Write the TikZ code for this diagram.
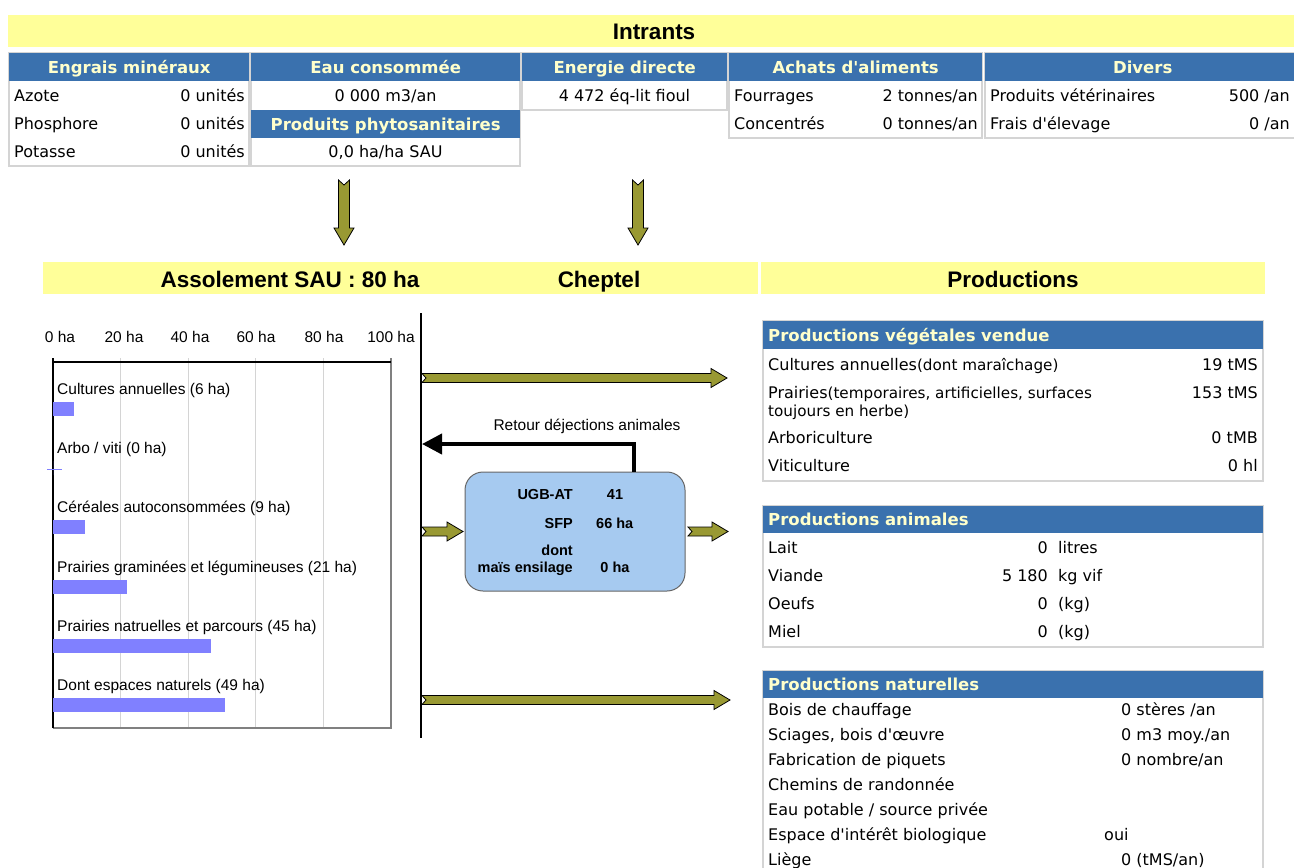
\documentclass[tikz,border=0pt]{standalone}
\usepackage{fontspec}
\setmainfont{DejaVu Sans}
\newfontfamily\verdf{DejaVu Sans}
\newfontfamily\arialf{Liberation Sans}
\usepackage{tikz}
\usetikzlibrary{arrows.meta, positioning, calc}
\definecolor{SAUyellow}{HTML}{FFFF99}
\definecolor{SAUblue}{HTML}{3A71AE}
\definecolor{SAUcream}{HTML}{FFFFCC}
\definecolor{SAUgrid}{HTML}{D4D4D4}
\definecolor{SAUolive}{HTML}{999933}
\definecolor{SAUbar}{HTML}{8080FF}
\definecolor{SAUbox}{HTML}{A6CAF0}
\newcommand{\fsz}[1]{\fontsize{#1}{#1}\selectfont}
% fat olive arrows, horizontal and downwards
\newcommand{\oliveH}[2]{\filldraw[oliveArrow] ($(#1)+(0,-4.5)$) -- ($(#2)+(-16,-4.5)$) -- ($(#2)+(-16,-9.5)$) -- (#2)
  -- ($(#2)+(-16,9.5)$) -- ($(#2)+(-16,4.5)$) -- ($(#1)+(0,4.5)$) -- ($(#1)+(4,0)$) -- cycle;}
\newcommand{\oliveV}[2]{\filldraw[oliveArrow] ($(#1)+(-5.5,0)$) -- ($(#2)+(-5.5,-17)$) -- ($(#2)+(-10,-17)$) -- (#2)
  -- ($(#2)+(10,-17)$) -- ($(#2)+(5.5,-17)$) -- ($(#1)+(5.5,0)$) -- ($(#1)+(0,5)$) -- cycle;}

\begin{document}
\begin{tikzpicture}[x=1pt, y=-1pt,
    band/.style={fill=SAUyellow},
    bandTitle/.style={font=\arialf\bfseries\fsz{22.5}, inner sep=0, text height=16, text depth=0},
    head/.style={fill=SAUblue, text=SAUcream, font=\verdf\bfseries\fsz{16.5}, inner sep=0, text height=12, text depth=0, anchor=north west},
    cellFrame/.style={draw=SAUgrid, line width=1.2},
    txt/.style={font=\verdf\fsz{16}, inner sep=0, text height=11.5, text depth=0},
    atxt/.style={font=\arialf\fsz{15.5}, inner sep=0, text height=11, text depth=0},
    btxt/.style={font=\arialf\bfseries\fsz{14.5}, inner sep=0, text height=11, text depth=0},
    oliveArrow/.style={fill=SAUolive, draw=black, line width=0.8, line join=miter},
  ]
  \useasboundingbox (0,0) rectangle (1294,868);
  \clip (0,0) rectangle (1294,868);

  % Intrants
  \fill[band] (8,15) rectangle (1294,47);
  \node[bandTitle] (intrants) at (654,31) {Intrants};

  \draw[cellFrame] (9,53) rectangle (249,166);
  \node[head, minimum width=240, minimum height=28] (hEngrais) at (9,53) {Engrais minéraux};
  \foreach \y/\a in {96/Azote, 124/Phosphore, 152/Potasse}{
    \node[txt, anchor=west] (n\a) at (14,\y) {\a};
    \node[txt, anchor=east] (v\a) at (245,\y) {0 unités};
  }

  \draw[cellFrame] (251,53) rectangle (520,166);
  \node[head, minimum width=269, minimum height=28] (hEau) at (251,53) {Eau consommée};
  \node[txt] (vEau) at (385.5,96) {0 000 m3/an};
  \node[head, minimum width=269, minimum height=28] (hPhyto) at (251,110) {Produits phytosanitaires};
  \node[txt] (vPhyto) at (385.5,152) {0,0 ha/ha SAU};

  \draw[cellFrame] (522,53) rectangle (727,110);
  \node[head, minimum width=205, minimum height=28] (hEnergie) at (522,53) {Energie directe};
  \node[txt] (vEnergie) at (624.5,96) {4 472 éq-lit fioul};

  \draw[cellFrame] (729,53) rectangle (982,138);
  \node[head, minimum width=253, minimum height=28] (hAchats) at (729,53) {Achats d'aliments};
  \foreach \y/\a/\v [count=\i] in {96/Fourrages/2, 124/Concentrés/0}{
    \node[txt, anchor=west] (nAch\i) at (734,\y) {\a};
    \node[txt, anchor=east] (vAch\i) at (978,\y) {\v{} tonnes/an};
  }

  \draw[cellFrame] (985,53) rectangle (1300,138);
  \node[head, minimum width=315, minimum height=28] (hDivers) at (985,53) {Divers};
  \foreach \y/\a/\v [count=\i] in {96/Produits vétérinaires/500, 124/Frais d'élevage/0}{
    \node[txt, anchor=west] (nDiv\i) at (990,\y) {\a};
    \node[txt, anchor=east] (vDiv\i) at (1290,\y) {\v{} /an};
  }

  \coordinate (engOut) at (344,180);
  \coordinate (assolIn) at (344,245);
  \coordinate (achOut) at (638,180);
  \coordinate (cheptIn) at (638,245);
  \oliveV{engOut}{assolIn}
  \oliveV{achOut}{cheptIn}

  % second band
  \fill[band] (43,262) rectangle (758,294);
  \fill[band] (761,262) rectangle (1265,294);
  \node[bandTitle] (assol) at (290,279) {Assolement SAU : 80 ha};
  \node[bandTitle] (cheptTitle) at (599,279) {Cheptel};
  \node[bandTitle] (prodTitle) at (1013,279) {Productions};

  % assolement chart
  \foreach \k in {1,...,4}
    \draw[SAUgrid, line width=1.2] ({53+67.6*\k},358) -- ({53+67.6*\k},728);
  \draw[gray, line width=1.2] (391,358) -- (391,728) -- (53,728);
  \draw[black, line width=1.2] (53,728) -- (53,358) (53,362) -- (391,362);
  \foreach \k/\x/\t in {0/60/0 ha, 1/124/20 ha, 2/190/40 ha, 3/256/60 ha, 4/324/80 ha, 5/391/100 ha}
    \node[atxt] (ax\k) at (\x,337) {\t};
  \foreach \v/\lab [count=\i from 0] in {6/{Cultures annuelles (6 ha)}, 0/{Arbo / viti (0 ha)},
      9/{Céréales autoconsommées (9 ha)}, 21/{Prairies graminées et légumineuses (21 ha)},
      45/{Prairies natruelles et parcours (45 ha)}, 49/{Dont espaces naturels (49 ha)}}{
    \node[atxt, anchor=west] (cat\i) at (57,{389+59.2*\i}) {\lab};
    \fill[SAUbar] (53,{402+59.2*\i}) rectangle ({53+3.52*\v},{416+59.2*\i});
  }
  \draw[SAUbar, line width=1] (47,469) -- (62,469);

  % cheptel
  \draw[line width=1.5] (421,313) -- (421,738);
  \node[draw=black!60, fill=SAUbox, rounded corners=18, minimum width=220, minimum height=119, line width=1] (cheptel) at (575,531.5) {};
  \node[btxt, anchor=east] (ugbL) at (573,494) {UGB-AT};
  \node[btxt] (ugbV) at (615,494) {41};
  \node[btxt, anchor=east] (sfpL) at (573,523) {SFP};
  \node[btxt, anchor=west] (sfpV) at (596,523) {66 ha};
  \node[btxt, anchor=east] (dontL) at (573,550) {dont};
  \node[btxt, anchor=east] (maisL) at (573,567) {maïs ensilage};
  \node[btxt] (maisV) at (615,567) {0 ha};

  \coordinate (tA) at (422,378);
  \coordinate (vegIn) at (727,378);
  \coordinate (tB) at (422,531.5);
  \coordinate (boxIn) at (463,531.5);
  \coordinate (boxOut) at (688,531.5);
  \coordinate (animIn) at (728,531.5);
  \coordinate (tC) at (422,700);
  \coordinate (natIn) at (730,700);
  \oliveH{tA}{vegIn}
  \oliveH{tB}{boxIn}
  \oliveH{boxOut}{animIn}
  \oliveH{tC}{natIn}

  \coordinate (tR) at (422,444);
  \draw[line width=4, -{Triangle[length=20pt, width=20pt]}] ([xshift=59]cheptel.north) |- (tR);
  \node[atxt] (retour) at (587,425) {Retour déjections animales};

  % productions
  \draw[cellFrame] (763,321) rectangle (1263,481);
  \node[head, text width=490, align=left, inner xsep=5, minimum height=28] (hVeg) at (763,321) {Productions végétales vendue};
  \node[txt, anchor=west] (nCult) at (768,365) {Cultures annuelles{\fsz{15.2}(dont maraîchage)}};
  \node[txt, anchor=west] (nPrai) at (768,393) {Prairies{\fsz{15.2}(temporaires, artificielles, surfaces}};
  \node[txt, anchor=west, font=\verdf\fsz{15.2}] (nPrai2) at (768,411) {toujours en herbe)};
  \node[txt, anchor=west] (nArbo) at (768,438) {Arboriculture};
  \node[txt, anchor=west] (nViti) at (768,466) {Viticulture};
  \foreach \y/\v [count=\i] in {365/19 tMS, 393/153 tMS, 438/0 tMB, 466/0 hl}
    \node[txt, anchor=east] (vVeg\i) at (1258,\y) {\v};

  \draw[cellFrame] (763,506) rectangle (1263,647);
  \node[head, text width=490, align=left, inner xsep=5, minimum height=27] (hAnim) at (763,506) {Productions animales};
  \foreach \y/\a/\v/\u [count=\i] in {548/Lait/0/litres, 576/Viande/5 180/kg vif, 604/Oeufs/0/(kg), 632/Miel/0/(kg)}{
    \node[txt, anchor=west] (nAnim\i) at (768,\y) {\a};
    \node[txt, anchor=east] (vAnim\i) at (1048,\y) {\v};
    \node[txt, anchor=west] (uAnim\i) at (1058,\y) {\u};
  }

  \draw[cellFrame] (763,671) rectangle (1263,890);
  \node[head, text width=490, align=left, inner xsep=5, minimum height=27] (hNat) at (763,671) {Productions naturelles};
  \foreach \a/\v [count=\i from 0] in {{Bois de chauffage}/{0 stères /an}, {Sciages, bois d'œuvre}/{0 m3 moy./an},
      {Fabrication de piquets}/{0 nombre/an}, {Chemins de randonnée}/{}, {Eau potable / source privée}/{},
      {Espace d'intérêt biologique}/{}, {Liège}/{0 (tMS/an)}}{
    \node[txt, anchor=west] (nNat\i) at (768,{710+25*\i}) {\a};
    \node[txt, anchor=west] (vNat\i) at (1121,{710+25*\i}) {\v};
  }
  \node[txt, anchor=west] (vOui) at (1104,835) {oui};
\end{tikzpicture}
\end{document}
